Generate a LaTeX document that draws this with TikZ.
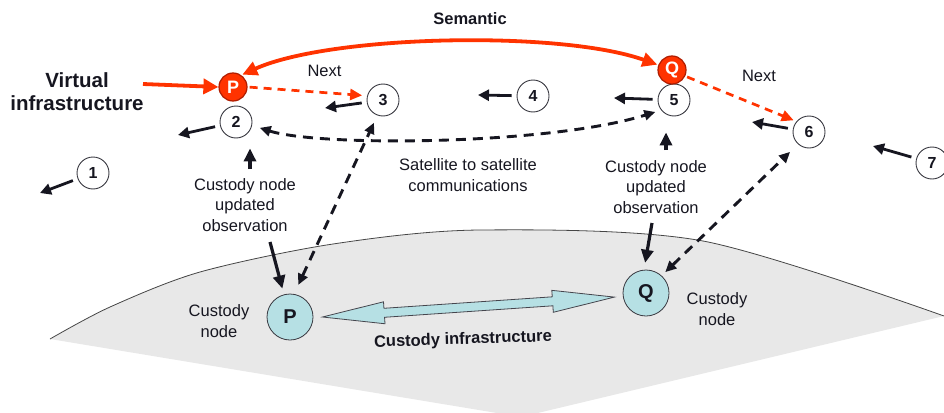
\documentclass[tikz,border=0pt]{standalone}
\usepackage{fontspec}
\setmainfont{Liberation Sans}
\usetikzlibrary{arrows.meta,calc}

\definecolor{semred}{RGB}{255,51,0}
\definecolor{semredd}{RGB}{175,28,0}
\definecolor{ground}{RGB}{232,232,232}
\definecolor{groundline}{RGB}{70,70,70}
\definecolor{custblue}{RGB}{182,224,228}
\definecolor{ink}{RGB}{22,22,32}

\tikzset{
  numnode/.style={circle, draw=ink!85, line width=0.9pt, fill=white, minimum size=32pt,
    inner sep=0pt, text=ink, font=\fontsize{16}{16}\selectfont\bfseries},
  virtnode/.style={circle, draw=semredd, line width=1.2pt, fill=semred, minimum size=28pt,
    inner sep=0pt, text=white, font=\fontsize{18}{18}\selectfont\bfseries},
  custnode/.style={circle, draw=ink!85, line width=0.8pt, fill=custblue, minimum size=46pt,
    inner sep=0pt, text=ink, font=\fontsize{20}{20}\selectfont\bfseries},
  txt/.style={align=center, inner sep=0pt, text=ink, font=\fontsize{16.5}{20.5}\selectfont},
  boldtxt/.style={align=center, inner sep=0pt, text=ink, font=\fontsize{16.5}{20}\selectfont\bfseries},
  bigtxt/.style={align=center, inner sep=0pt, text=ink, font=\fontsize{20.5}{23}\selectfont\bfseries},
  motion/.style={draw=ink, line width=2.8pt, -{Triangle[length=11pt,width=11pt]}, shorten <=5pt},
  update/.style={draw=ink, line width=3.2pt, -{Triangle[length=13pt,width=12pt]}},
  linkdash/.style={draw=ink, line width=2.9pt, dash pattern=on 10pt off 7pt,
    {Triangle[length=11pt,width=10pt]}-{Triangle[length=11pt,width=10pt]}},
  nextdash/.style={draw=semred, line width=2.7pt, dash pattern=on 8pt off 6pt,
    -{Triangle[length=12pt,width=11pt]}},
  semantic/.style={draw=semred, line width=3.8pt,
    {Triangle[length=15pt,width=14pt]}-{Triangle[length=15pt,width=14pt]}},
  feed/.style={draw=semred, line width=3.8pt, -{Triangle[length=15pt,width=15pt]}},
  blockarrow/.style={draw=ink!80, line width=0.8pt, fill=custblue}
}

\begin{document}
\begin{tikzpicture}[x=1pt,y=-1pt]
\useasboundingbox (0,0) rectangle (944,412);
\clip (0,0) rectangle (944,412);

% ground segment with its curved horizon
\fill[ground] plot[smooth] coordinates {(50,339) (110,307) (200,272) (333,244) (480,230) (703,241) (944,316)}
  -- (521,417) -- cycle;
\draw[groundline, line width=0.8pt] plot[smooth] coordinates {(50,339) (110,307) (200,272) (333,244) (480,230) (703,241) (944,316)};

% satellites along the orbit
\node[numnode] (n1) at (93,173) {1};
\node[numnode] (n2) at (236,122) {2};
\node[numnode] (n3) at (383,100) {3};
\node[numnode] (n4) at (533,96) {4};
\node[numnode] (n5) at (674,100) {5};
\node[numnode] (n6) at (809,132) {6};
\node[numnode] (n7) at (932,163) {7};

% virtual nodes
\node[virtnode] (Pv) at (233,87) {P};
\node[virtnode] (Qv) at (672,70) {Q};

% custody nodes on the ground
\node[custnode] (Pc) at (290,317) {P};
\node[custnode] (Qc) at (646,293) {Q};

% texts
\node[boldtxt] (sem) at (470,19) {Semantic};
\node[bigtxt] (virt) at (77,92) {Virtual\\infrastructure};
\node[txt] (nextL) at (324.5,71) {Next};
\node[txt] (nextR) at (759,76) {Next};
\node[txt] (obsL) at (245,205) {Custody node\\updated\\observation};
\node[txt] (obsR) at (656,187) {Custody node\\updated\\observation};
\node[txt] (sat) at (468,175) {Satellite to satellite\\communications};
\node[txt] (custL) at (219,321) {Custody\\node};
\node[txt] (custR) at (717,309) {Custody\\node};
\node[boldtxt, rotate=2] (custinf) at (463,340) {Custody infrastructure};

% direction of motion of each satellite
\coordinate (m1) at (40,193);
\coordinate (m2) at (178,135);
\coordinate (m3) at (325,108);
\coordinate (m4) at (478,95);
\coordinate (m5) at (614,98);
\coordinate (m6) at (752,122);
\coordinate (m7) at (873,146);
\draw[motion] (n1) -- (m1);
\draw[motion] (n2) -- (m2);
\draw[motion] (n3) -- (m3);
\draw[motion] (n4) -- (m4);
\draw[motion] (n5) -- (m5);
\draw[motion] (n6) -- (m6);
\draw[motion] (n7) -- (m7);

% virtual infrastructure
\coordinate (vin) at (143,84);
\draw[feed] (vin) -- (Pv.west);
\draw[semantic, shorten <=1pt, shorten >=1pt] (Pv.55) .. controls (330,35) and (560,30) .. (Qv.160);
\draw[nextdash, shorten <=2pt, shorten >=5pt] (Pv.east) -- (n3.165);
\draw[nextdash, shorten <=2pt, shorten >=3pt] (Qv.-25) -- (n6.140);

% satellite to satellite link
\draw[linkdash, shorten <=8pt, shorten >=6pt] (n2.-12) .. controls (320,147) and (550,145) .. (n5.218);

% ground to satellite links
\draw[linkdash, shorten <=10pt, shorten >=8pt] (Pc.80) -- (n3.250);
\draw[linkdash, shorten <=5pt, shorten >=11pt] (Qc.48) -- (n6.228);

% custody node updates
\coordinate (u1) at (250,169);
\coordinate (u2) at (666,150);
\draw[update, shorten >=10pt] (u1) -- (u1 |- n2.south);
\draw[update, shorten >=16pt] (u2) -- (u2 |- n5.south);
\coordinate (d1) at (270,242);
\coordinate (d2) at (652,223);
\draw[update, shorten >=6pt] (d1) -- (Pc.105);
\draw[update, shorten >=7pt] (d2) -- (Qc.95);

% custody infrastructure block arrow between the custody nodes
\begin{scope}[shift={($(Pc.east)+(9,0)$)}, rotate=3.9]
  \draw[blockarrow] (0,0) -- (62,-11) -- (62,-4.5) -- (230.7,-4.5) -- (230.7,-11)
    -- (292.7,0) -- (230.7,11) -- (230.7,4.5) -- (62,4.5) -- (62,11) -- cycle;
\end{scope}
\end{tikzpicture}
\end{document}
